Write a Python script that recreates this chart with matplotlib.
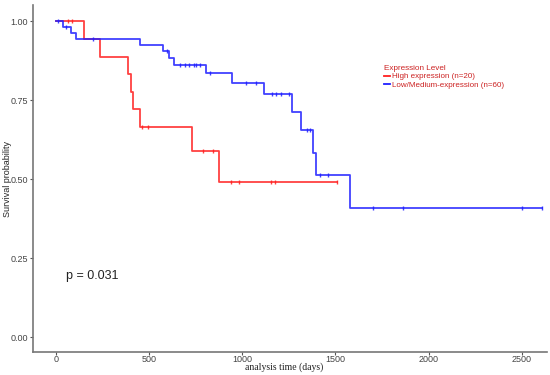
import numpy as np
import matplotlib
matplotlib.use("Agg")
import matplotlib.pyplot as plt
from matplotlib.lines import Line2D

# High expression (n=20): event times and survival after each event
high_times = [0, 150, 240, 389, 403, 417, 451, 730, 875, 1510]
high_surv = [1.0, 0.943, 0.887, 0.832, 0.777, 0.722, 0.666, 0.588, 0.49, 0.49]
high_cens_t = [67, 85, 462, 494, 789, 842, 938, 981, 1153, 1178, 1510]

# Low/Medium expression (n=60)
low_times = [0, 40, 80, 108, 454, 576, 608, 633, 805, 944, 1115, 1269, 1315,
             1380, 1398, 1580, 2608]
low_surv = [1.0, 0.981, 0.962, 0.943, 0.924, 0.904, 0.884, 0.862, 0.835, 0.805,
            0.768, 0.711, 0.657, 0.583, 0.512, 0.408, 0.408]
low_cens_t = [13, 54, 200, 599, 665, 692, 713, 740, 751, 772, 830, 1022, 1072,
              1158, 1183, 1210, 1250, 1349, 1365, 1415, 1463, 1704, 1865, 2502, 2608]

xticks = [0, 500, 1000, 1500, 2000, 2500]
yticks = [0.0, 0.25, 0.5, 0.75, 1.0]
red = "#ff2020"
blue = "#2020ff"


def surv_at(times, surv, t):
    idx = np.searchsorted(times, t, side="right") - 1
    return np.array(surv)[idx]


plt.rcParams["font.family"] = ["Liberation Sans", "DejaVu Sans"]
fig = plt.figure(figsize=(5.5, 3.75), dpi=100)
ax = fig.add_axes([0.06, 0.0613, 0.9345, 0.9254])

for times, surv, cens, col in [(high_times, high_surv, high_cens_t, red),
                               (low_times, low_surv, low_cens_t, blue)]:
    ax.step(times, surv, where="post", color=col, lw=1.3, alpha=0.85)
    ax.plot(cens, surv_at(times, surv, cens), ls="none", marker="|",
            ms=3, mew=1, color=col, alpha=0.85)

ax.set_xlim(-122, 2635)
ax.set_ylim(-0.047, 1.051)
ax.set_xticks(xticks)
ax.set_yticks(yticks)
ax.set_yticklabels(["0.00", "0.25", "0.50", "0.75", "1.00"])
ax.tick_params(labelsize=6.5, length=2, color="#555555", labelcolor="#444444", pad=1.5)
ax.tick_params(axis="x", pad=0.5)
for s in ["top", "right"]:
    ax.spines[s].set_visible(False)
for s in ["left", "bottom"]:
    ax.spines[s].set_color("#777777")
    ax.spines[s].set_linewidth(1.2)

fig.text(0.014, 0.522, "Survival probability", fontsize=6.5, rotation=90,
         ha="center", va="center", color="#222222")
fig.text(0.517, 0.02, "analysis time (days)", fontsize=7,
         family="Liberation Serif", ha="center", va="center", color="#222222")

ax.text(55, 0.195, "p = 0.031", fontsize=9, color="#222222", va="center")

handles = [Line2D([], [], color=red, lw=1.3), Line2D([], [], color=blue, lw=1.3)]
leg = ax.legend(handles, ["High expression (n=20)", "Low/Medium-expression (n=60)"],
                title="Expression Level", loc="upper left",
                bbox_to_anchor=(0.675, 0.84), frameon=False, fontsize=5.8,
                title_fontsize=5.9, handlelength=0.7, handletextpad=0.25,
                labelspacing=0.15, borderpad=0, labelcolor="#cc2222")
leg.get_title().set_color("#cc2222")
leg._legend_box.align = "left"

fig.savefig("out.png", dpi=100)
